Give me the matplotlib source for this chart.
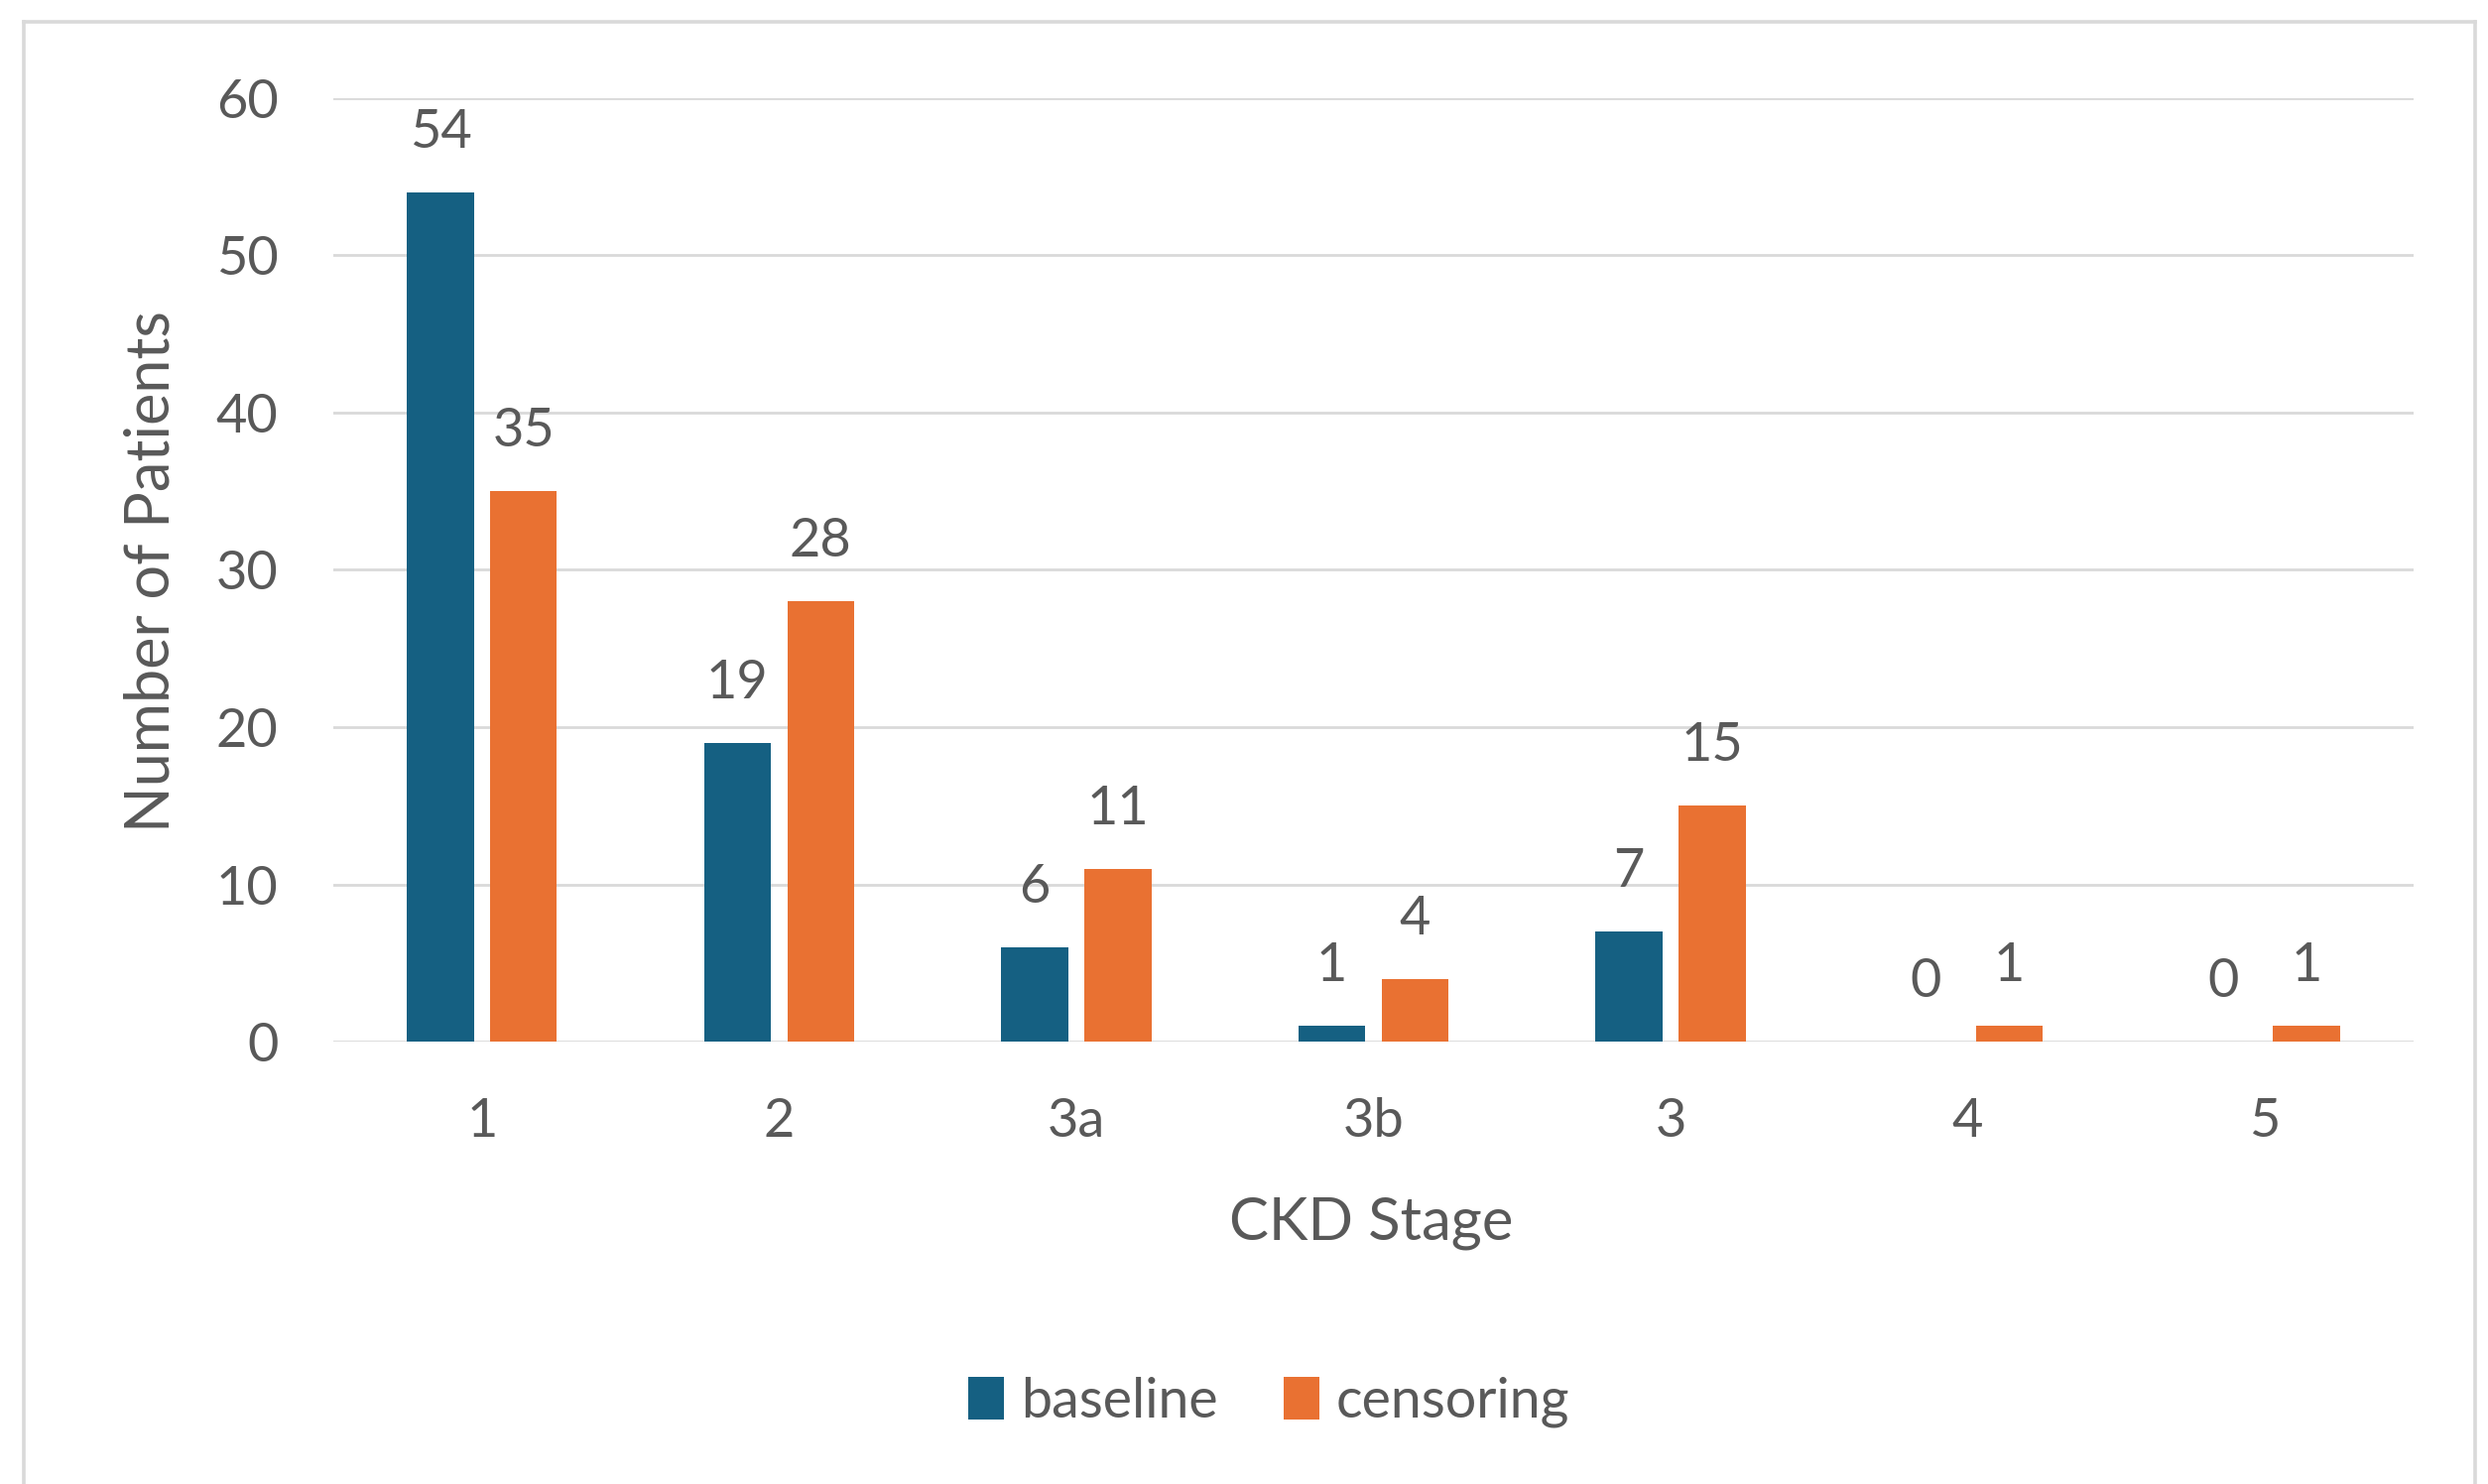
import numpy as np
import matplotlib.pyplot as plt
from matplotlib.lines import Line2D

plt.rcParams['font.family'] = ['Lato', 'DejaVu Sans']

stages = ['1', '2', '3a', '3b', '3', '4', '5']
baseline = [54, 19, 6, 1, 7, 0, 0]
censoring = [35, 28, 11, 4, 15, 1, 1]

blue = '#156082'
orange = '#e97132'
text_gray = '#595959'
grid_gray = '#d9d9d9'

fig = plt.figure(figsize=(12.54, 7.48), dpi=200)
ax = fig.add_axes([0.134, 0.298, 0.836, 0.636])

x = np.arange(len(stages))
w = 0.225
off = 0.14
b1 = ax.bar(x - off, baseline, w, color=blue, label='baseline', zorder=3)
b2 = ax.bar(x + off, censoring, w, color=orange, label='censoring', zorder=3)

for bars, vals in ((b1, baseline), (b2, censoring)):
    for rect, v in zip(bars, vals):
        ax.annotate(str(v), (rect.get_x() + rect.get_width() / 2, v),
                    xytext=(0, 13), textcoords='offset points',
                    ha='center', va='bottom', fontsize=19.5, color=text_gray)

ax.set_xlim(-0.5, len(stages) - 0.5)
ax.set_ylim(0, 60)
ax.set_yticks(range(0, 61, 10))
ax.set_xticks(x)
ax.set_xticklabels(stages)
ax.tick_params(axis='both', length=0, labelsize=19.5, labelcolor=text_gray, pad=20)
ax.grid(axis='y', color=grid_gray, linewidth=1.0, zorder=0)
for s in ax.spines.values():
    s.set_visible(False)

fig.text(0.061, 0.615, 'Number of Patients', rotation=90, ha='center', va='center',
         fontsize=22, color=text_gray)
fig.text(0.551, 0.176, 'CKD Stage', ha='center', va='center',
         fontsize=21.5, color=text_gray)

fig.legend(handles=[b1, b2], labels=['baseline', 'censoring'], loc='center',
           bbox_to_anchor=(0.51, 0.055), ncol=2, frameon=False, fontsize=20,
           labelcolor=text_gray, handlelength=0.65, handleheight=0.8,
           handletextpad=0.3, columnspacing=1.2)

# light frame around the chart area, open at the bottom
frame = dict(color=grid_gray, linewidth=1.3, transform=fig.transFigure)
fig.add_artist(Line2D([0.0096, 0.0096], [0.0, 0.985], **frame))
fig.add_artist(Line2D([0.0096, 0.995], [0.985, 0.985], **frame))
fig.add_artist(Line2D([0.995, 0.995], [0.0, 0.985], **frame))

fig.savefig('out.png', dpi=200, facecolor='white')
